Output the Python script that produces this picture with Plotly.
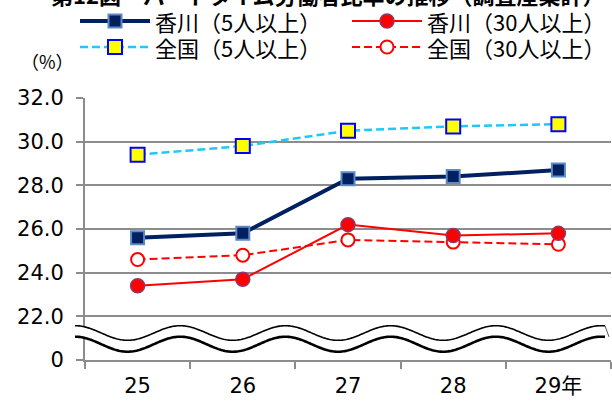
import numpy as np
import plotly.graph_objects as go

# --- data -------------------------------------------------------------
years = ["25", "26", "27", "28", "29年"]
kagawa_5 = [25.6, 25.8, 28.3, 28.4, 28.7]     # 香川(5人以上)
kagawa_30 = [23.4, 23.7, 26.2, 25.7, 25.8]    # 香川(30人以上)
zenkoku_5 = [29.4, 29.8, 30.5, 30.7, 30.8]    # 全国(5人以上)
zenkoku_30 = [24.6, 24.8, 25.5, 25.4, 25.3]   # 全国(30人以上)

# the axis is broken below 22.0: the bottom position (20) is labelled 0
y_tickvals = [20, 22, 24, 26, 28, 30, 32]
y_ticktext = ["0", "22.0", "24.0", "26.0", "28.0", "30.0", "32.0"]

title_text = "第12図　パートタイム労働者比率の推移（調査産業計）"

# --- layout geometry (pixels) -----------------------------------------
W, H = 612, 408
ML, MR, MT, MB = 85, 1, 98, 48
PW, PH = W - ML - MR, H - MT - MB
FONT = "Noto Sans CJK JP"
NUM_FONT = "DejaVu Sans, Noto Sans CJK JP"
DASH = "8px,4px"


def px(xp):
    return (xp - ML) / PW


def py(yp):
    return (H - MB - yp) / PH


styles = {
    "香川（5人以上）": dict(line=dict(color="#002060", width=4),
                      marker=dict(symbol="square", size=13, color="#002060",
                                  line=dict(color="#5b8ac6", width=2))),
    "香川（30人以上）": dict(line=dict(color="#ff0000", width=2),
                       marker=dict(symbol="circle", size=14, color="#ff0000",
                                   line=dict(color="#8b3a6b", width=1.5))),
    "全国（5人以上）": dict(line=dict(color="#1ec8f8", width=2.5, dash=DASH),
                      marker=dict(symbol="square", size=14, color="#ffff00",
                                  line=dict(color="#0000ff", width=2))),
    "全国（30人以上）": dict(line=dict(color="#ff0000", width=2, dash=DASH),
                       marker=dict(symbol="circle", size=13, color="#ffffff",
                                   line=dict(color="#ff0000", width=2))),
}
series = {
    "全国（30人以上）": zenkoku_30,
    "香川（30人以上）": kagawa_30,
    "全国（5人以上）": zenkoku_5,
    "香川（5人以上）": kagawa_5,
}

fig = go.Figure()
for name, vals in series.items():
    fig.add_trace(go.Scatter(x=years, y=vals, mode="lines+markers", name=name,
                             showlegend=False, cliponaxis=False, **styles[name]))

shapes = []
annotations = []

# --- wavy break marks between 0 and 22.0 ------------------------------
xs = np.linspace(75, 605, 400)
phase = np.cos(2 * np.pi * (xs - 75) / 105.2)
upper = 333 - 7.3 * phase
lower = 344.2 - 7.5 * phase


def path_of(xv, yv):
    pts = [f"{px(a):.5f},{py(b):.5f}" for a, b in zip(xv, yv)]
    return "M" + " L".join(pts)


band = path_of(xs, upper) + " L" + " L".join(
    f"{px(a):.5f},{py(b):.5f}" for a, b in zip(xs[::-1], lower[::-1])) + " Z"
shapes.append(dict(type="path", path=band, xref="paper", yref="paper",
                   fillcolor="white", line=dict(width=0), layer="above"))
shapes.append(dict(type="path", path=path_of(xs, upper), xref="paper", yref="paper",
                   line=dict(color="black", width=1.6), layer="above"))
shapes.append(dict(type="path", path=path_of(xs, lower), xref="paper", yref="paper",
                   line=dict(color="black", width=2.6), layer="above"))
shapes.append(dict(type="line", xref="paper", yref="paper",
                   x0=px(605), y0=py(upper[-1]), x1=px(609), y1=py(lower[-1]),
                   line=dict(color="#555555", width=1), layer="above"))

# --- legend (two columns, two rows) -----------------------------------
legend_slots = [
    ("香川（5人以上）", 80, 150, 21),
    ("香川（30人以上）", 352, 422, 21),
    ("全国（5人以上）", 80, 150, 47),
    ("全国（30人以上）", 352, 422, 47),
]
for name, x0, x1, yc in legend_slots:
    st = styles[name]
    ln = st["line"]
    shapes.append(dict(type="line", xref="paper", yref="paper",
                       x0=px(x0), x1=px(x1), y0=py(yc), y1=py(yc),
                       line=dict(color=ln["color"], width=ln["width"],
                                 dash=ln.get("dash", "solid"))))
    mk = st["marker"]
    xc = (x0 + x1) / 2
    r = mk["size"] / 2
    shapes.append(dict(type="rect" if mk["symbol"] == "square" else "circle",
                       xref="paper", yref="paper",
                       x0=px(xc - r), x1=px(xc + r), y0=py(yc - r), y1=py(yc + r),
                       fillcolor=mk["color"],
                       line=dict(color=mk["line"]["color"], width=mk["line"]["width"])))
    annotations.append(dict(text=name, xref="paper", yref="paper",
                            x=px(x1 + 4), y=py(yc), xanchor="left", yanchor="middle",
                            showarrow=False, borderpad=0,
                            font=dict(family=FONT, size=22, color="black")))

annotations.append(dict(text="（%）", xref="paper", yref="paper",
                        x=px(47), y=py(61), xanchor="center", yanchor="middle",
                        showarrow=False, font=dict(family=FONT, size=18, color="black")))
annotations.append(dict(text=title_text, xref="paper", yref="paper",
                        x=px(328), y=py(-6), xanchor="center", yanchor="middle",
                        showarrow=False,
                        font=dict(family=FONT, size=22, color="black", weight="bold")))

fig.update_layout(
    width=W, height=H,
    margin=dict(l=ML, r=MR, t=MT, b=MB, pad=0),
    paper_bgcolor="white", plot_bgcolor="white",
    font=dict(family=FONT, size=20, color="black"),
    shapes=shapes, annotations=annotations,
    xaxis=dict(type="category", tickson="boundaries", ticks="outside",
               ticklen=7, tickwidth=1.5, tickcolor="#8c8c8c",
               showline=True, linecolor="#8c8c8c", linewidth=2,
               showgrid=False, zeroline=False, ticklabelstandoff=6,
               tickfont=dict(family=NUM_FONT, size=21), range=[-0.5, 4.5]),
    yaxis=dict(range=[20, 32], tickvals=y_tickvals, ticktext=y_ticktext,
               ticks="outside", ticklen=7, tickwidth=1.5, tickcolor="#8c8c8c",
               showline=True, linecolor="#8c8c8c", linewidth=2,
               showgrid=True, gridcolor="#8c8c8c", gridwidth=2,
               zeroline=False, ticklabelstandoff=8,
               tickfont=dict(family=NUM_FONT, size=21)),
)

fig.write_html("out.html")
